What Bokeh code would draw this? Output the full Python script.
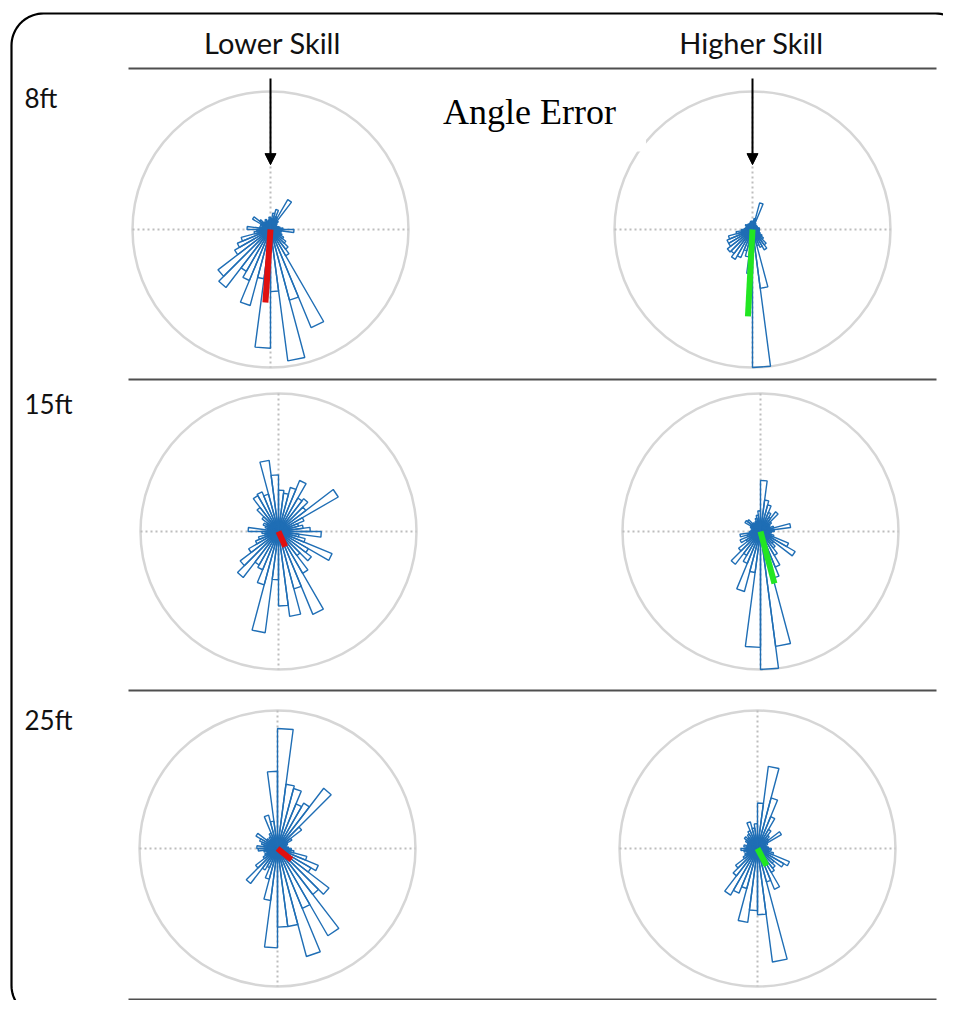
import numpy as np
from bokeh.plotting import figure
from bokeh.models import Range1d, Label, Arrow, NormalHead
from bokeh.core.properties import value
from bokeh.embed import file_html
from bokeh.resources import INLINE

# ---------------- data ----------------
n_bins = 48                      # angular bins of 7.5 degrees, compass angle (0 = up, clockwise)
skill_levels = ["Lower Skill", "Higher Skill"]
distances = ["8ft", "15ft", "25ft"]
title_text = "Angle Error"

# bar lengths as a fraction of the outer ring
low_8ft = [0.08, 0.12, 0.15, 0.10, 0.25, 0.08, 0.06, 0.05, 0.05, 0.06, 0.07, 0.09,
           0.17, 0.08, 0.07, 0.09, 0.11, 0.14, 0.18, 0.22, 0.77, 0.53, 0.96, 0.45,
           0.86, 0.36, 0.57, 0.40, 0.35, 0.53, 0.48, 0.30, 0.26, 0.22, 0.12, 0.10,
           0.17, 0.08, 0.06, 0.08, 0.15, 0.10, 0.07, 0.06, 0.08, 0.06, 0.07, 0.09]
high_8ft = [0.06, 0.08, 0.20, 0.05, 0.04, 0.04, 0.04, 0.04, 0.04, 0.04, 0.05, 0.05,
            0.05, 0.05, 0.05, 0.06, 0.08, 0.10, 0.14, 0.17, 0.14, 0.12, 0.43, 1.00,
            0.32, 0.20, 0.16, 0.22, 0.25, 0.22, 0.23, 0.20, 0.20, 0.18, 0.12, 0.08,
            0.06, 0.05, 0.05, 0.05, 0.06, 0.05, 0.05, 0.04, 0.05, 0.05, 0.06, 0.06]
low_15ft = [0.30, 0.28, 0.33, 0.40, 0.28, 0.30, 0.25, 0.50, 0.20, 0.15, 0.18, 0.23,
            0.31, 0.15, 0.20, 0.42, 0.25, 0.30, 0.22, 0.35, 0.65, 0.43, 0.62, 0.54,
            0.35, 0.74, 0.40, 0.30, 0.28, 0.42, 0.35, 0.25, 0.18, 0.15, 0.10, 0.12,
            0.22, 0.08, 0.10, 0.12, 0.10, 0.15, 0.22, 0.30, 0.31, 0.28, 0.52, 0.41]
high_15ft = [0.37, 0.23, 0.20, 0.15, 0.12, 0.18, 0.10, 0.08, 0.07, 0.10, 0.22, 0.10,
             0.08, 0.07, 0.10, 0.22, 0.29, 0.12, 0.15, 0.20, 0.28, 0.35, 0.84, 1.00,
             0.84, 0.30, 0.45, 0.25, 0.20, 0.30, 0.20, 0.12, 0.16, 0.10, 0.15, 0.08,
             0.07, 0.06, 0.07, 0.08, 0.13, 0.12, 0.08, 0.07, 0.08, 0.10, 0.12, 0.15]
low_25ft = [0.87, 0.47, 0.45, 0.35, 0.38, 0.55, 0.22, 0.12, 0.08, 0.07, 0.06, 0.08,
            0.10, 0.12, 0.22, 0.32, 0.28, 0.47, 0.42, 0.73, 0.47, 0.81, 0.57, 0.57,
            0.72, 0.38, 0.23, 0.15, 0.18, 0.32, 0.20, 0.12, 0.10, 0.08, 0.10, 0.14,
            0.15, 0.10, 0.12, 0.14, 0.18, 0.10, 0.08, 0.10, 0.12, 0.25, 0.20, 0.56]
high_25ft = [0.33, 0.60, 0.38, 0.25, 0.16, 0.12, 0.10, 0.20, 0.08, 0.06, 0.07, 0.08,
             0.10, 0.08, 0.12, 0.25, 0.22, 0.15, 0.18, 0.20, 0.32, 0.25, 0.83, 0.48,
             0.45, 0.54, 0.30, 0.35, 0.39, 0.25, 0.20, 0.12, 0.10, 0.08, 0.10, 0.12,
             0.08, 0.10, 0.07, 0.08, 0.10, 0.12, 0.10, 0.12, 0.14, 0.20, 0.15, 0.18]

# mean resultant vectors (compass degrees, fraction of ring)
mean_dir_low = [184, 156, 129]
mean_len_low = [0.53, 0.12, 0.13]
mean_dir_high = [183, 165, 152]
mean_len_high = [0.63, 0.39, 0.14]

# ---------------- layout ----------------
W, H = 943, 1000
col_x = [270, 756]
row_y = [229, 531, 848]
ring_r = 138
col_shift = [[0, -4], [8, 4], [7, 1]]   # small per-panel horizontal offsets
sep_y = [68, 379, 690, 999]
sep_x = (128, 936)

BAR_BLUE = "#1f6eb5"
RING_GREY = "#d6d6d6"
AXIS_GREY = "#bdbdbd"

p = figure(width=W, height=H, x_range=Range1d(0, W), y_range=Range1d(H, 0),
           output_backend="svg", toolbar_location=None, min_border=0)
p.axis.visible = False
p.grid.visible = False
p.outline_line_color = None
p.background_fill_color = "white"

# rounded frame
fl, ft, fr, fb, cr = 11, 13, 967, 1017, 32
def arc(cx, cy, a0, a1):
    a = np.radians(np.linspace(a0, a1, 20))
    return list(cx + cr * np.cos(a)), list(cy + cr * np.sin(a))
fx, fy = [], []
for (cx_, cy_, a0, a1) in [(fl + cr, ft + cr, 180, 270), (fr - cr, ft + cr, 270, 360),
                           (fr - cr, fb - cr, 0, 90), (fl + cr, fb - cr, 90, 180)]:
    ax_, ay_ = arc(cx_, cy_, a0, a1)
    fx += ax_
    fy += ay_
fx.append(fx[0]); fy.append(fy[0])
p.line(fx, fy, line_color="black", line_width=2.2)

# separator lines
p.segment(x0=[sep_x[0]] * 4, y0=sep_y, x1=[sep_x[1]] * 4, y1=sep_y,
          line_color="#4f4f4f", line_width=2)

series = [[low_8ft, high_8ft], [low_15ft, high_15ft], [low_25ft, high_25ft]]
means = [[(mean_dir_low[i], mean_len_low[i]), (mean_dir_high[i], mean_len_high[i])] for i in range(3)]
mean_colors = ["#e01010", "#22e622"]

edges = np.radians(np.arange(n_bins + 1) * 360.0 / n_bins)

for r in range(3):
    for c in range(2):
        cx = col_x[c] + col_shift[r][c]
        cy = row_y[r]
        R = ring_r
        # ring
        p.circle(x=[cx], y=[cy], radius=R, fill_color=None, line_color=RING_GREY, line_width=2.5)
        # dotted axes
        p.segment(x0=[cx - R, cx], y0=[cy, cy - R], x1=[cx + R, cx], y1=[cy, cy + R],
                  line_color=AXIS_GREY, line_width=2, line_dash="2 3")
        # rose bars (triangles like MATLAB rose)
        vals = np.array(series[r][c]) * R
        xs, ys = [], []
        for k in range(n_bins):
            t1, t2 = edges[k], edges[k + 1]
            L = vals[k]
            xs.append([cx, cx + L * np.sin(t1), cx + L * np.sin(t2)])
            ys.append([cy, cy - L * np.cos(t1), cy - L * np.cos(t2)])
        p.patches(xs, ys, fill_color=None, line_color=BAR_BLUE, line_width=1.4)
        # mean vector
        d, m = means[r][c]
        th = np.radians(d)
        p.segment(x0=[cx], y0=[cy], x1=[cx + m * R * np.sin(th)], y1=[cy - m * R * np.cos(th)],
                  line_color=mean_colors[c], line_width=6)

# arrows into the first row
for c in range(2):
    cx = col_x[c] + col_shift[0][c]
    p.add_layout(Arrow(end=NormalHead(size=11, fill_color="black", line_color="black"),
                       x_start=cx, y_start=78, x_end=cx, y_end=row_y[0] - 0.47 * ring_r,
                       line_color="black", line_width=2))

# labels
p.text(x=[272, 751], y=[42, 42], text=skill_levels, text_font=value("Lato"),
       text_font_size="29px", text_align="center", text_baseline="alphabetic", text_color="#111111")
p.text(x=[24, 24, 24], y=[97, 403, 719], text=distances, text_font=value("Lato"),
       text_font_size="26px", text_align="left", text_baseline="alphabetic", text_color="#111111")

p.add_layout(Label(x=529, y=118, text=title_text, text_font="Liberation Serif",
                   text_font_size="36px", text_align="center", text_baseline="alphabetic",
                   text_color="black", background_fill_color="white",
                   padding=dict(left=30, right=30, top=6, bottom=20)))

open("out.html", "w").write(file_html(p, INLINE))
